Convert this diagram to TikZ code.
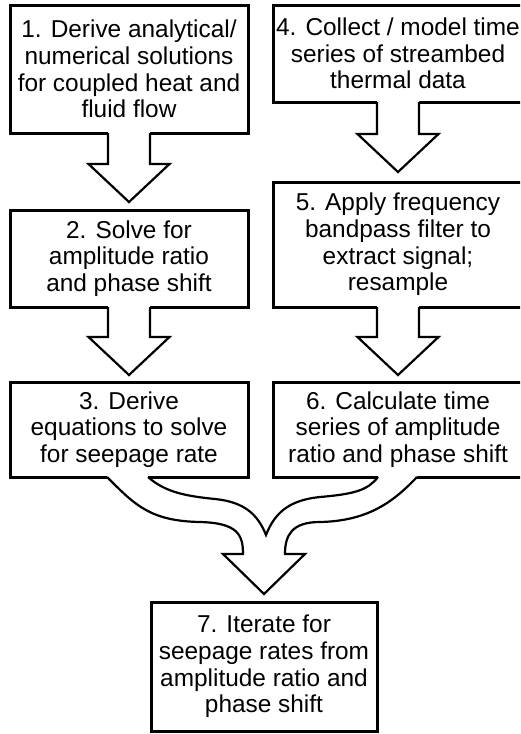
\documentclass[tikz,border=0pt]{standalone}
\usepackage{fontspec}
\setmainfont{Liberation Sans}
\usetikzlibrary{calc}
\newcommand\blockarrow[3]{%
 \fill[white] let \p1=(#1.south), \p2=(#2.north) in
  (\x1-21pt,\y1+2pt) -- (\x1-21pt,\y2+#3pt+38pt) -- (\x1-40.5pt,\y2+#3pt+38pt) -- (\x1,\y2+#3pt)
  -- (\x1+40.5pt,\y2+#3pt+38pt) -- (\x1+21pt,\y2+#3pt+38pt) -- (\x1+21pt,\y1+2pt) -- cycle;
 \draw[arrline] let \p1=(#1.south), \p2=(#2.north) in
  (\x1-21pt,\y1) -- (\x1-21pt,\y2+#3pt+38pt) -- (\x1-40.5pt,\y2+#3pt+38pt) -- (\x1,\y2+#3pt)
  -- (\x1+40.5pt,\y2+#3pt+38pt) -- (\x1+21pt,\y2+#3pt+38pt) -- (\x1+21pt,\y1);
}
\begin{document}
\begin{tikzpicture}[x=1pt,y=-1pt,
 box/.style={draw, line width=3pt, fill=white, inner sep=0pt, outer sep=0pt, align=center,
   font=\fontsize{24.4}{26.7}\selectfont},
 arrline/.style={line width=2.2pt, line join=miter}]
\clip (0,0) rectangle (520,734);
\fill[white] (0,0) rectangle (520,734);
% left column
\node[box, minimum width=238pt, minimum height=128pt] (b1) at (129,69)
  {1. Derive analytical/\\numerical solutions\\for coupled heat and\\fluid flow};
\node[box, minimum width=238pt, minimum height=97pt] (b2) at (129,258.5)
  {2. Solve for\\amplitude ratio\\and phase shift};
\node[box, minimum width=238pt, minimum height=95pt] (b3) at (129,429.5)
  {3. Derive\\equations to solve\\for seepage rate};
% right column
\node[box, minimum width=250pt, minimum height=97pt] (b4) at (398,53.5)
  {4. Collect / model time\\series of streambed\\thermal data};
\node[box, minimum width=250pt, minimum height=125pt] (b5) at (398,244.5)
  {5. Apply frequency\\bandpass filter to\\extract signal;\\resample};
\node[box, minimum width=250pt, minimum height=95pt] (b6) at (398,429.5)
  {6. Calculate time\\series of amplitude\\ratio and phase shift};
% bottom
\node[box, minimum width=226pt, minimum height=129pt] (b7) at (264,666.5)
  {7. Iterate for\\seepage rates from\\amplitude ratio and\\phase shift};
% straight block arrows
\blockarrow{b1}{b2}{8}
\blockarrow{b2}{b3}{7}
\blockarrow{b4}{b5}{10}
\blockarrow{b5}{b6}{7}
% merging arrow
\coordinate (m1) at ($(b3.south)+(-22,0)$);
\coordinate (m2) at ($(b3.south)+(19,0)$);
\coordinate (m3) at ($(b6.south)+(-20,0)$);
\coordinate (m4) at ($(b6.south)+(19,0)$);
\coordinate (tip) at ($(b7.north)+(0,-8)$);
\fill[white] (107,475) -- (m1)
  .. controls (135,505) and (150,521) .. (200,522)
  .. controls (238,523) and (243,535) .. (243,554)
  -- (223,554) -- (tip) -- (305,554) -- (285,554)
  .. controls (285,535) and (292,522) .. (320,522)
  .. controls (370,521) and (395,500) .. (m4) -- (417,475) -- (378,475) -- (m3)
  .. controls (368,490) and (355,494) .. (320,497)
  .. controls (290,500) and (275,512) .. (266,535)
  .. controls (258,515) and (245,502) .. (215,499)
  .. controls (185,496) and (165,492) .. (m2) -- (148,475) -- cycle;
\draw[arrline] (m1)
  .. controls (135,505) and (150,521) .. (200,522)
  .. controls (238,523) and (243,535) .. (243,554)
  -- (223,554) -- (tip) -- (305,554) -- (285,554)
  .. controls (285,535) and (292,522) .. (320,522)
  .. controls (370,521) and (395,500) .. (m4);
\draw[arrline] (m3)
  .. controls (368,490) and (355,494) .. (320,497)
  .. controls (290,500) and (275,512) .. (266,535)
  .. controls (258,515) and (245,502) .. (215,499)
  .. controls (185,496) and (165,492) .. (m2);
\end{tikzpicture}
\end{document}
